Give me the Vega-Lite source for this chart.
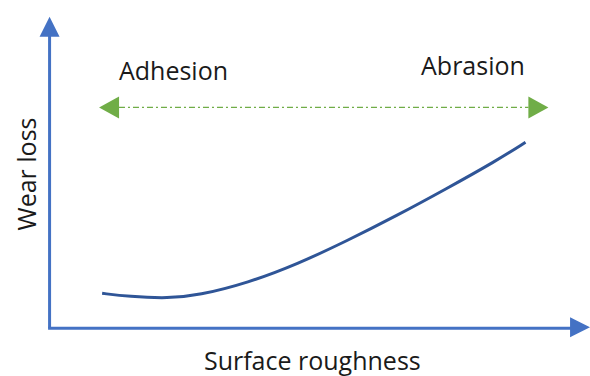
{
  "$schema": "https://vega.github.io/schema/vega-lite/v6.json",
  "width": 590,
  "height": 376,
  "autosize": {"type": "fit", "contains": "padding"},
  "padding": 0,
  "background": "white",
  "config": {"view": {"stroke": null}},
  "datasets": {
    "curve": [
      {"roughness": 1.06, "wear": 1.17},
      {"roughness": 1.6, "wear": 1.06},
      {"roughness": 2.4, "wear": 1.0},
      {"roughness": 3.0, "wear": 1.1},
      {"roughness": 4.0, "wear": 1.52},
      {"roughness": 5.0, "wear": 2.15},
      {"roughness": 6.0, "wear": 2.93},
      {"roughness": 7.0, "wear": 3.77},
      {"roughness": 8.0, "wear": 4.67},
      {"roughness": 9.0, "wear": 5.6},
      {"roughness": 9.6, "wear": 6.23}
    ],
    "yaxis": [{"x": 0, "y": 0, "y2": 9.8}],
    "xaxis": [{"x": -0.03, "x2": 10.6, "y": 0}],
    "yhead": [{"x": 0, "y": 10.1}],
    "xhead": [{"x": 10.7, "y": 0.03}],
    "regime": [{"x": 1.4, "x2": 9.66, "y": 7.4}],
    "lefthead": [{"x": 1.2, "y": 7.4}],
    "righthead": [{"x": 9.86, "y": 7.4}],
    "labels": [
      {"x": 2.5, "y": 8.33, "text": "Adhesion"},
      {"x": 8.54, "y": 8.5, "text": "Abrasion"},
      {"x": 5.3, "y": -1.4, "text": "Surface roughness"}
    ],
    "ylabel": [{"x": -0.28, "y": 5.17, "text": "Wear loss"}]
  },
  "layer": [
    {
      "data": {"name": "yaxis"},
      "mark": {"type": "rule", "color": "#4472c4", "strokeWidth": 3},
      "encoding": {
        "x": {"field": "x", "type": "quantitative", "scale": {"domain": [-1, 10.8], "nice": false, "zero": false}, "axis": null},
        "y": {"field": "y", "type": "quantitative", "scale": {"domain": [-1.5333, 11], "nice": false, "zero": false}, "axis": null},
        "y2": {"field": "y2"}
      }
    },
    {
      "data": {"name": "xaxis"},
      "mark": {"type": "rule", "color": "#4472c4", "strokeWidth": 3},
      "encoding": {
        "x": {"field": "x", "type": "quantitative"},
        "x2": {"field": "x2"},
        "y": {"field": "y", "type": "quantitative"}
      }
    },
    {
      "data": {"name": "yhead"},
      "mark": {"type": "point", "shape": "M0,-1L1,1L-1,1Z", "size": 400, "filled": true, "color": "#4472c4", "opacity": 1},
      "encoding": {
        "x": {"field": "x", "type": "quantitative"},
        "y": {"field": "y", "type": "quantitative"}
      }
    },
    {
      "data": {"name": "xhead"},
      "mark": {"type": "point", "shape": "M1,0L-1,-1L-1,1Z", "size": 400, "filled": true, "color": "#4472c4", "opacity": 1, "clip": false},
      "encoding": {
        "x": {"field": "x", "type": "quantitative"},
        "y": {"field": "y", "type": "quantitative"}
      }
    },
    {
      "data": {"name": "regime"},
      "mark": {"type": "rule", "color": "#70ad47", "strokeWidth": 1.3, "strokeDash": [6, 3, 2, 3]},
      "encoding": {
        "x": {"field": "x", "type": "quantitative"},
        "x2": {"field": "x2"},
        "y": {"field": "y", "type": "quantitative"}
      }
    },
    {
      "data": {"name": "lefthead"},
      "mark": {"type": "point", "shape": "M-1,0L1,-1.1L1,1.1Z", "size": 400, "filled": true, "color": "#70ad47", "opacity": 1},
      "encoding": {
        "x": {"field": "x", "type": "quantitative"},
        "y": {"field": "y", "type": "quantitative"}
      }
    },
    {
      "data": {"name": "righthead"},
      "mark": {"type": "point", "shape": "M1,0L-1,-1.1L-1,1.1Z", "size": 400, "filled": true, "color": "#70ad47", "opacity": 1},
      "encoding": {
        "x": {"field": "x", "type": "quantitative"},
        "y": {"field": "y", "type": "quantitative"}
      }
    },
    {
      "data": {"name": "curve"},
      "mark": {"type": "line", "color": "#2f5597", "strokeWidth": 3, "interpolate": "basis"},
      "encoding": {
        "x": {"field": "roughness", "type": "quantitative"},
        "y": {"field": "wear", "type": "quantitative"}
      }
    },
    {
      "data": {"name": "labels"},
      "mark": {"type": "text", "font": "Open Sans", "fontSize": 25, "color": "#1a1a1a", "align": "center", "baseline": "alphabetic"},
      "encoding": {
        "x": {"field": "x", "type": "quantitative"},
        "y": {"field": "y", "type": "quantitative"},
        "text": {"field": "text"}
      }
    },
    {
      "data": {"name": "ylabel"},
      "mark": {"type": "text", "font": "Open Sans", "fontSize": 25, "color": "#1a1a1a", "align": "center", "baseline": "alphabetic", "angle": 270},
      "encoding": {
        "x": {"field": "x", "type": "quantitative"},
        "y": {"field": "y", "type": "quantitative"},
        "text": {"field": "text"}
      }
    }
  ]
}
